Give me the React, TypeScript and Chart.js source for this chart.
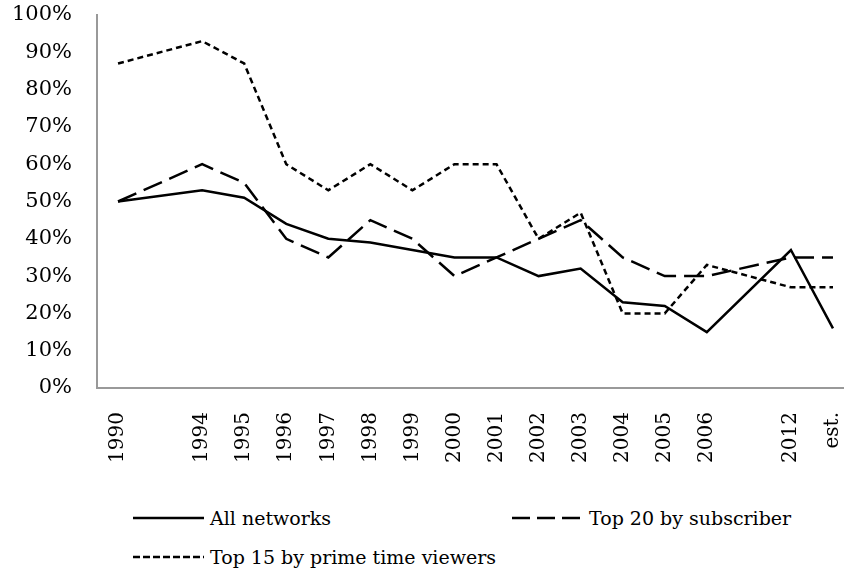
import React, { useEffect, useRef } from "react";
import { Chart, registerables } from "chart.js";

Chart.register(...registerables);

const categories = ["1990", "", "1994", "1995", "1996", "1997", "1998", "1999", "2000", "2001", "2002", "2003", "2004", "2005", "2006", "", "2012", "est."];
const allNetworks = [50, null, 53, 51, 44, 40, 39, 37, 35, 35, 30, 32, 23, 22, 15, null, 37, 16];
const top20BySubscriber = [50, null, 60, 55, 40, 35, 45, 40, 30, 35, 40, 45, 35, 30, 30, null, 35, 35];
const top15ByPrimeTime = [87, null, 93, 87, 60, 53, 60, 53, 60, 60, 40, 47, 20, 20, 33, null, 27, 27];
const yTicks = [0, 10, 20, 30, 40, 50, 60, 70, 80, 90, 100];

const seriesNames = ["All networks", "Top 20 by subscriber", "Top 15 by prime time viewers"];
const FONT = "'DejaVu Serif', serif";

function LegendItem({ left, top, dash, label }: { left: number; top: number; dash: string; label: string }) {
  return (
    <div style={{ position: "absolute", left, top, height: 24, display: "flex", alignItems: "center", whiteSpace: "nowrap" }}>
      <svg width={71} height={6} style={{ display: "block" }}>
        <line x1={0} y1={3} x2={71} y2={3} stroke="#000" strokeWidth={2.5} strokeDasharray={dash} />
      </svg>
      <span style={{ marginLeft: 6, fontFamily: FONT, fontSize: 19, color: "#000" }}>{label}</span>
    </div>
  );
}

export default function App() {
  const ref = useRef<HTMLCanvasElement>(null);
  useEffect(() => {
    if (!ref.current) return;
    const chart = new Chart(ref.current, {
      type: "line",
      data: {
        labels: categories,
        datasets: [
          { label: seriesNames[0], data: allNetworks, borderColor: "#000", borderWidth: 2.5, pointRadius: 0, spanGaps: true, tension: 0 },
          { label: seriesNames[1], data: top20BySubscriber, borderColor: "#000", borderWidth: 2.5, borderDash: [20, 8], pointRadius: 0, spanGaps: true, tension: 0 },
          { label: seriesNames[2], data: top15ByPrimeTime, borderColor: "#000", borderWidth: 2.5, borderDash: [6, 4], pointRadius: 0, spanGaps: true, tension: 0 },
        ],
      },
      options: {
        responsive: false,
        animation: false,
        devicePixelRatio: 1,
        layout: { padding: { left: 0, top: 15, right: 2, bottom: 0 } },
        plugins: { legend: { display: false }, tooltip: { enabled: false } },
        scales: {
          x: {
            type: "category",
            offset: true,
            grid: { display: false, drawTicks: false },
            border: { display: true, color: "#999", width: 2 },
            ticks: { autoSkip: false, maxRotation: 90, minRotation: 90, padding: 24, color: "#000", font: { family: FONT, size: 20 } },
            afterFit: (s: any) => { s.height = 90; s.paddingLeft = 0; s.paddingRight = 0; },
          },
          y: {
            min: 0,
            max: 100,
            afterBuildTicks: (s: any) => { s.ticks = yTicks.map((v) => ({ value: v })); },
            grid: { display: false, drawTicks: false },
            border: { display: true, color: "#999", width: 2 },
            ticks: { padding: 25, color: "#000", font: { family: FONT, size: 21 }, callback: (v: any) => v + "%" },
            afterFit: (s: any) => { s.width = 97; s.paddingTop = 0; s.paddingBottom = 0; },
          },
        },
      },
    });
    return () => chart.destroy();
  }, []);

  return (
    <div style={{ position: "fixed", left: 0, top: 0, width: 844, height: 569, overflow: "hidden", background: "#fff" }}>
      <canvas ref={ref} width={856} height={478} style={{ display: "block" }} />
      <LegendItem left={133} top={506} dash="" label={seriesNames[0]} />
      <LegendItem left={512} top={506} dash="18 7" label={seriesNames[1]} />
      <LegendItem left={133} top={545} dash="7 3" label={seriesNames[2]} />
    </div>
  );
}
